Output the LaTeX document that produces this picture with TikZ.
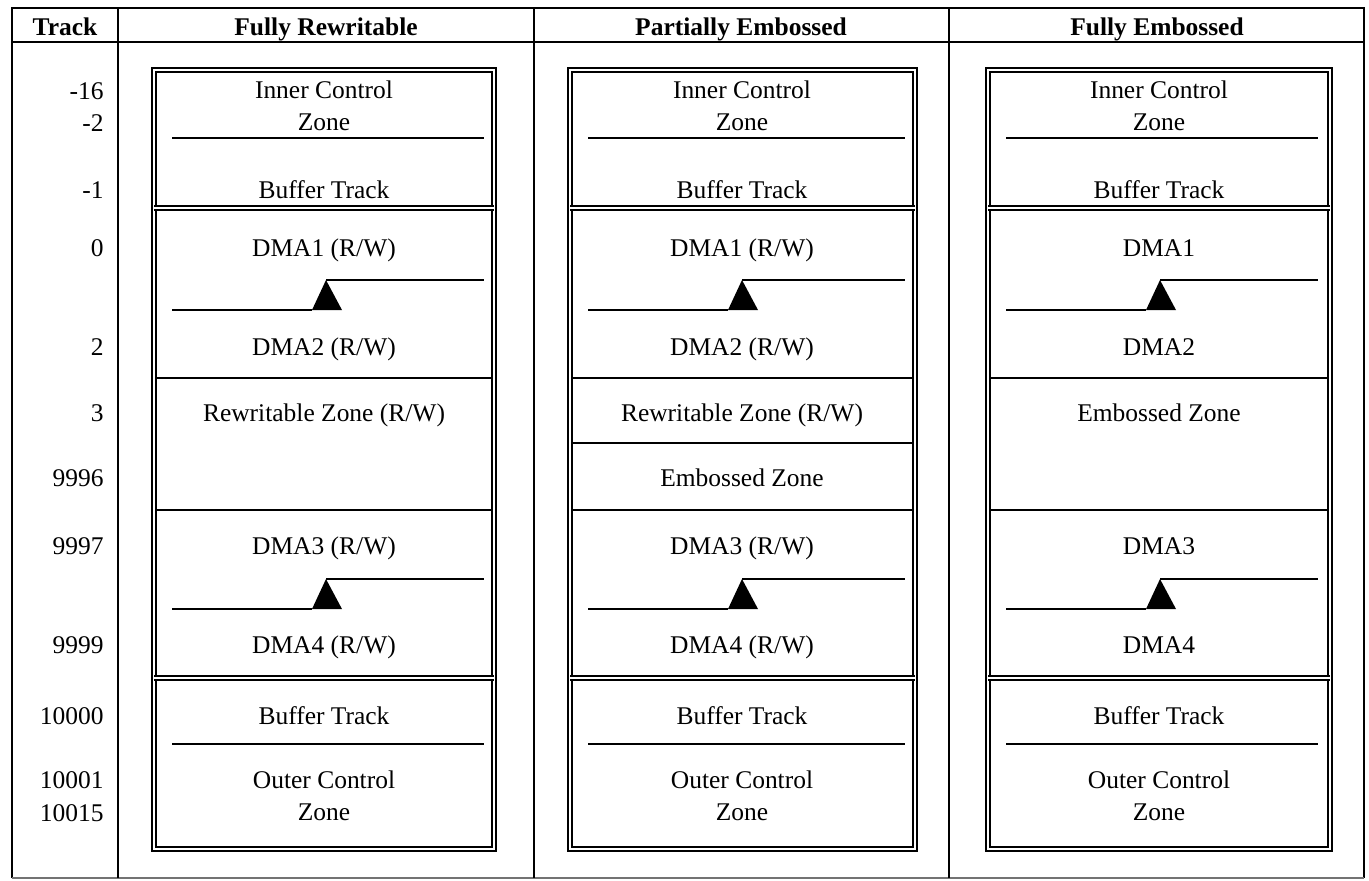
\documentclass[tikz,border=0pt]{standalone}
\usepackage{fontspec}
\setmainfont{Liberation Serif}
\begin{document}
\begin{tikzpicture}[x=0.02cm, y=-0.02cm]

      \tikzset{txt/.style={inner sep=0pt, align=center, text height=12pt, text depth=2.5pt, font=\fontsize{14.5}{18}\selectfont},
               twoline/.style={inner sep=0pt, align=center, font=\fontsize{14.5}{18}\selectfont},
               head/.style={txt, font=\fontsize{14.5}{18}\selectfont\bfseries},
               tnum/.style={txt, anchor=east},
               grid/.style={line width=1pt},
               zonebox/.style={draw, line width=1.15pt, double=white, double distance=1.3pt},
               zoneline/.style={line width=1.3pt},
               marker/.style={fill=black}}
      \useasboundingbox (0,0) rectangle (1369,880);
%% Table
      \draw[grid] (12,878) -- (12,8) -- (1364,8) -- (1364,878);
      \draw[grid, black!55] (12,878) -- (1364,878);
      \draw[grid] (12,42) -- (1364,42);
      \draw[grid] (118,8) -- (118,878);
      \draw[grid] (534,8) -- (534,878);
      \draw[grid] (949,8) -- (949,878);
%% Header
      \node[head] (trackhdr) at (65,27) {Track};
      \node[head] (rwhdr) at (326,27) {Fully Rewritable};
      \node[head] (pehdr) at (741,27) {Partially Embossed};
      \node[head] (fehdr) at (1157,27) {Fully Embossed};
%% Track numbers
      \node[tnum] (t-16) at (104,91) {-16};
      \node[tnum] (t-2) at (104,123) {-2};
      \node[tnum] (t-1) at (104,190) {-1};
      \node[tnum] (t0) at (104,248) {0};
      \node[tnum] (t2) at (104,347) {2};
      \node[tnum] (t3) at (104,413) {3};
      \node[tnum] (t9996) at (104,478) {9996};
      \node[tnum] (t9997) at (104,546) {9997};
      \node[tnum] (t9999) at (104,645) {9999};
      \node[tnum] (t10000) at (104,716) {10000};
      \node[tnum] (t10001) at (104,780) {10001};
      \node[tnum] (t10015) at (104,813) {10015};

%% Fully rewritable
      \draw[zonebox] (154,70) rectangle (494,849);
      \draw[zonebox] (154,208) -- (494,208);
      \draw[zonebox] (154,678) -- (494,678);
      \draw[zoneline] (172,138) -- (484,138);
      \draw[zoneline] (172,744) -- (484,744);
      \draw[zoneline] (157,378) -- (491,378);
      \draw[zoneline] (157,510) -- (491,510);
      \draw[zoneline] (172,310) -- (312,310);
      \draw[zoneline] (326,280) -- (484,280);
      \fill[marker] (312,310) -- (326,280) -- (342,310) -- cycle;
      \draw[zoneline] (172,609) -- (312,609);
      \draw[zoneline] (326,579) -- (484,579);
      \fill[marker] (312,609) -- (326,579) -- (342,609) -- cycle;
      \node[twoline] (rw-icz) at (324,106) {Inner Control\\Zone};
      \node[txt] (rw-buf1) at (324,190) {Buffer Track};
      \node[txt] (rw-dma1) at (324,248) {DMA1 (R/W)};
      \node[txt] (rw-dma2) at (324,347) {DMA2 (R/W)};
      \node[txt] (rw-zone) at (324,413) {Rewritable Zone (R/W)};
      \node[txt] (rw-dma3) at (324,546) {DMA3 (R/W)};
      \node[txt] (rw-dma4) at (324,645) {DMA4 (R/W)};
      \node[txt] (rw-buf2) at (324,716) {Buffer Track};
      \node[twoline] (rw-ocz) at (324,796) {Outer Control\\Zone};

%% Partially embossed
      \draw[zonebox] (570,70) rectangle (915,849);
      \draw[zonebox] (570,208) -- (915,208);
      \draw[zonebox] (570,678) -- (915,678);
      \draw[zoneline] (588,138) -- (905,138);
      \draw[zoneline] (588,744) -- (905,744);
      \draw[zoneline] (573,378) -- (912,378);
      \draw[zoneline] (573,443) -- (912,443);
      \draw[zoneline] (573,510) -- (912,510);
      \draw[zoneline] (588,310) -- (728,310);
      \draw[zoneline] (742,280) -- (905,280);
      \fill[marker] (728,310) -- (742,280) -- (758,310) -- cycle;
      \draw[zoneline] (588,609) -- (728,609);
      \draw[zoneline] (742,579) -- (905,579);
      \fill[marker] (728,609) -- (742,579) -- (758,609) -- cycle;
      \node[twoline] (pe-icz) at (742,106) {Inner Control\\Zone};
      \node[txt] (pe-buf1) at (742,190) {Buffer Track};
      \node[txt] (pe-dma1) at (742,248) {DMA1 (R/W)};
      \node[txt] (pe-dma2) at (742,347) {DMA2 (R/W)};
      \node[txt] (pe-rwzone) at (742,413) {Rewritable Zone (R/W)};
      \node[txt] (pe-ezone) at (742,478) {Embossed Zone};
      \node[txt] (pe-dma3) at (742,546) {DMA3 (R/W)};
      \node[txt] (pe-dma4) at (742,645) {DMA4 (R/W)};
      \node[txt] (pe-buf2) at (742,716) {Buffer Track};
      \node[twoline] (pe-ocz) at (742,796) {Outer Control\\Zone};

%% Fully embossed
      \draw[zonebox] (988,70) rectangle (1330,849);
      \draw[zonebox] (988,208) -- (1330,208);
      \draw[zonebox] (988,678) -- (1330,678);
      \draw[zoneline] (1006,138) -- (1318,138);
      \draw[zoneline] (1006,744) -- (1318,744);
      \draw[zoneline] (991,378) -- (1327,378);
      \draw[zoneline] (991,510) -- (1327,510);
      \draw[zoneline] (1006,310) -- (1146,310);
      \draw[zoneline] (1160,280) -- (1318,280);
      \fill[marker] (1146,310) -- (1160,280) -- (1176,310) -- cycle;
      \draw[zoneline] (1006,609) -- (1146,609);
      \draw[zoneline] (1160,579) -- (1318,579);
      \fill[marker] (1146,609) -- (1160,579) -- (1176,609) -- cycle;
      \node[twoline] (fe-icz) at (1159,106) {Inner Control\\Zone};
      \node[txt] (fe-buf1) at (1159,190) {Buffer Track};
      \node[txt] (fe-dma1) at (1159,248) {DMA1};
      \node[txt] (fe-dma2) at (1159,347) {DMA2};
      \node[txt] (fe-zone) at (1159,413) {Embossed Zone};
      \node[txt] (fe-dma3) at (1159,546) {DMA3};
      \node[txt] (fe-dma4) at (1159,645) {DMA4};
      \node[txt] (fe-buf2) at (1159,716) {Buffer Track};
      \node[twoline] (fe-ocz) at (1159,796) {Outer Control\\Zone};

\end{tikzpicture}
\end{document}
